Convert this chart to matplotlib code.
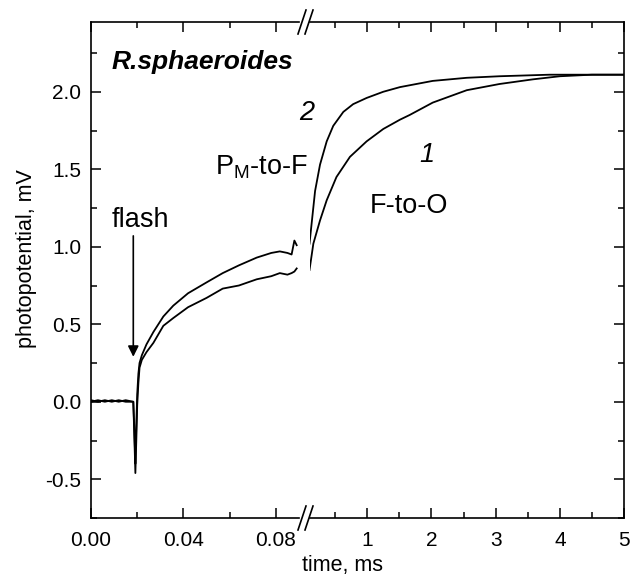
import matplotlib
matplotlib.use('Agg')  # no display here

import matplotlib.pyplot as plt
from matplotlib.lines import Line2D
from matplotlib.ticker import FixedLocator, MultipleLocator

plt.rcParams['font.family'] = ['Liberation Sans', 'DejaVu Sans']
plt.rcParams['mathtext.fontset'] = 'custom'
plt.rcParams['mathtext.rm'] = 'Liberation Sans'
plt.rcParams['axes.unicode_minus'] = False

# fast part of the traces, 0 - 0.09 ms
t_fast = [0.000, 0.003, 0.006, 0.009, 0.012, 0.015, 0.0183, 0.0188, 0.0192, 0.0196,
          0.0200, 0.0205, 0.0210, 0.0220, 0.0240, 0.0270, 0.0313, 0.0356, 0.0420,
          0.0500, 0.0570, 0.0640, 0.0717, 0.0780, 0.0817, 0.0850, 0.0868, 0.0880, 0.0890]
v2_fast = [0.01, 0.00, 0.01, 0.00, 0.01, 0.00, 0.00, -0.20, -0.40, -0.15,
           0.05, 0.18, 0.25, 0.30, 0.37, 0.45, 0.55, 0.62, 0.70,
           0.77, 0.83, 0.88, 0.93, 0.96, 0.97, 0.96, 0.95, 1.04, 1.01]
v1_fast = [0.00, 0.01, 0.00, 0.01, 0.00, 0.01, 0.00, -0.25, -0.46, -0.25,
           -0.02, 0.12, 0.22, 0.27, 0.32, 0.38, 0.49, 0.54, 0.61,
           0.67, 0.73, 0.75, 0.79, 0.81, 0.83, 0.82, 0.83, 0.84, 0.86]

# slow part, 0.1 - 5 ms
t_slow2 = [0.10, 0.187, 0.264, 0.368, 0.47, 0.627, 0.78, 0.99, 1.25, 1.51,
           2.02, 2.55, 3.06, 3.84, 4.5, 5.0]
v2_slow = [1.02, 1.36, 1.53, 1.68, 1.78, 1.87, 1.92, 1.96, 2.00, 2.03,
           2.07, 2.09, 2.10, 2.11, 2.11, 2.11]
t_slow1 = [0.10, 0.16, 0.264, 0.368, 0.52, 0.73, 0.99, 1.25, 1.51, 1.66,
           2.02, 2.55, 3.06, 3.58, 4.0, 4.5, 5.0]
v1_slow = [0.85, 1.02, 1.17, 1.30, 1.45, 1.58, 1.68, 1.76, 1.82, 1.85,
           1.93, 2.01, 2.05, 2.08, 2.10, 2.11, 2.11]

y_major = [-0.5, 0.0, 0.5, 1.0, 1.5, 2.0]
y_labels = ['-0.5', '0.0', '0.5', '1.0', '1.5', '2.0']
fast_major = [0.00, 0.04, 0.08]
fast_labels = ['0.00', '0.04', '0.08']
slow_major = [1, 2, 3, 4, 5]

W, H = 630, 575
TICK_FS = 15
ANNOT_FS = 19.5


def px(x, y):
    # pixel position (from top-left) -> figure fraction
    return x / W, (H - y) / H


def style_axes(ax, side):
    ax.set_ylim(-0.75, 2.45)
    ax.yaxis.set_major_locator(FixedLocator(y_major))
    ax.yaxis.set_minor_locator(MultipleLocator(0.25))
    ax.patch.set_visible(False)
    for s in ax.spines.values():
        s.set_linewidth(1.2)
    ax.tick_params(which='both', direction='in', top=True, width=1.1, labelsize=TICK_FS)
    ax.tick_params(axis='x', which='both', pad=9.5)
    ax.tick_params(axis='y', which='both', pad=7)
    ax.tick_params(which='major', length=7)
    ax.tick_params(which='minor', length=4.5)
    if side == 'left':
        ax.spines['right'].set_visible(False)
        ax.tick_params(which='both', right=False)
        ax.set_yticklabels(y_labels)
    else:
        ax.spines['left'].set_visible(False)
        ax.tick_params(which='both', left=False, right=True, labelleft=False)


def draw(fig):
    bottom, height = 57 / H, (518 - 22) / H
    ax1 = fig.add_axes([91 / W, bottom, (299 - 91) / W, height])
    ax2 = fig.add_axes([309.5 / W, bottom, (624 - 309.5) / W, height])

    for ax, t2, v2, t1, v1 in [(ax1, t_fast, v2_fast, t_fast, v1_fast),
                               (ax2, t_slow2, v2_slow, t_slow1, v1_slow)]:
        ax.plot(t2, v2, color='black', lw=1.3)
        ax.plot(t1, v1, color='black', lw=1.3)

    ax1.set_xlim(0, 0.09)
    ax1.xaxis.set_major_locator(FixedLocator(fast_major))
    ax1.xaxis.set_minor_locator(MultipleLocator(0.02))
    ax1.set_xticklabels(fast_labels)
    style_axes(ax1, 'left')

    ax2.set_xlim(0.1, 5)
    ax2.xaxis.set_major_locator(FixedLocator(slow_major))
    ax2.xaxis.set_minor_locator(MultipleLocator(0.5))
    style_axes(ax2, 'right')

    # labels inside the plot
    ax1.text(0.0091, 2.19, 'R.sphaeroides', fontsize=19, fontweight='bold',
             style='italic', ha='left', va='center')
    ax1.text(0.0212, 1.17, 'flash', fontsize=ANNOT_FS, ha='center', va='center')
    ax1.annotate('', xy=(0.0183, 0.29), xytext=(0.0183, 1.07),
                 arrowprops=dict(arrowstyle='-|>', color='black', lw=1.2,
                                 mutation_scale=16, shrinkA=0, shrinkB=0))
    ax1.text(0.0938, 1.51, r'P$_{\mathregular{M}}$-to-F', fontsize=ANNOT_FS,
             ha='right', va='center')
    ax1.text(0.0932, 1.86, '2', fontsize=ANNOT_FS, style='italic', ha='center', va='center')
    ax2.text(1.93, 1.59, '1', fontsize=ANNOT_FS, style='italic', ha='center', va='center')
    ax2.text(1.65, 1.26, 'F-to-O', fontsize=ANNOT_FS, ha='center', va='center')

    # axis titles
    fig.text(*px(27, 259), 'photopotential, mV', fontsize=15.5, rotation=90,
             ha='center', va='center')
    fig.text(*px(342, 565), 'time, ms', fontsize=15.5, ha='center', va='center')

    # break marks on the x axis
    for y0 in (22, 518):
        for dx in (0, 7):
            x0, y_a = px(298 + dx, y0 + 12)
            x1, y_b = px(306 + dx, y0 - 12)
            fig.add_artist(Line2D([x0, x1], [y_a, y_b], color='black', lw=1.2))


if __name__ == "__main__":
    fig = plt.figure(figsize=(W / 100, H / 100), dpi=100)
    draw(fig)
    fig.savefig('out.png', dpi=100)
